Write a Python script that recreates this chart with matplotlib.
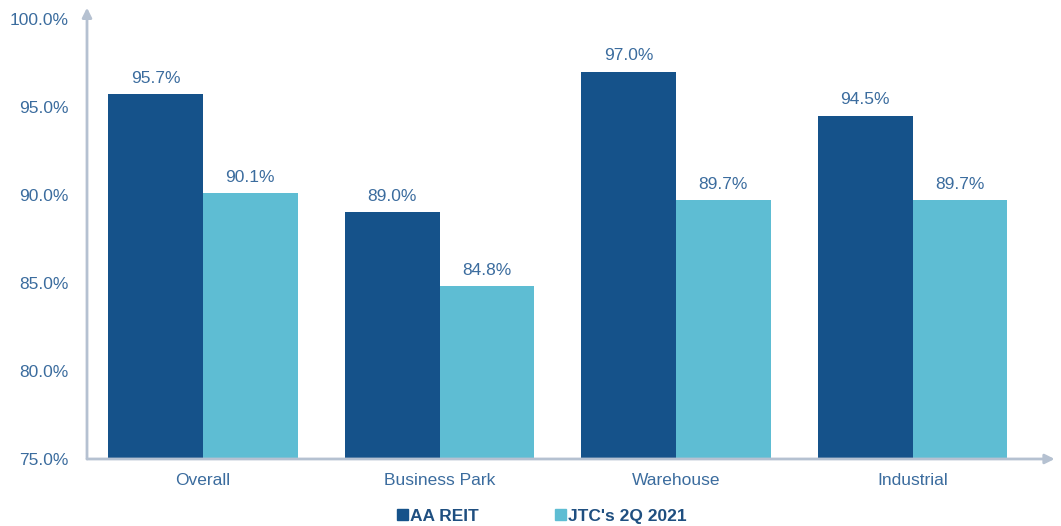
import matplotlib.pyplot as plt
import numpy as np
from matplotlib.patches import Patch

categories = ['Overall', 'Business Park', 'Warehouse', 'Industrial']
aa_reit = [95.7, 89.0, 97.0, 94.5]
jtc_2q2021 = [90.1, 84.8, 89.7, 89.7]
yticks = [75, 80, 85, 90, 95, 100]

dark = '#15528A'
light = '#5EBDD3'
txt = '#3B6C9E'
axis_col = '#B5C1D1'

plt.rcParams['font.family'] = ['Liberation Sans', 'DejaVu Sans']

fig = plt.figure(figsize=(10.61, 5.26), dpi=100)
ax = fig.add_axes([0.082, 0.1274, 0.912, 0.837])

x = np.arange(len(categories))
w = 0.4
b1 = ax.bar(x - w / 2, np.array(aa_reit) - 75, w, bottom=75, color=dark)
b2 = ax.bar(x + w / 2, np.array(jtc_2q2021) - 75, w, bottom=75, color=light)

# value labels over each bar
for bars, vals in ((b1, aa_reit), (b2, jtc_2q2021)):
    for bar, v in zip(bars, vals):
        ax.annotate(f'{v:.1f}%', (bar.get_x() + bar.get_width() / 2, v),
                    xytext=(0, 6), textcoords='offset points',
                    ha='center', va='bottom', fontsize=12.5, color=txt)

ax.set_xlim(-0.49, 3.6)
ax.set_ylim(75, 100)
ax.set_xticks(x)
ax.set_xticklabels(categories, fontsize=12.5, color=txt)
ax.set_yticks(yticks)
ax.set_yticklabels([f'{t:.1f}%' for t in yticks], fontsize=12.5, color=txt)
ax.tick_params(length=0)
ax.tick_params(axis='x', pad=10)
ax.tick_params(axis='y', pad=13)

for s in ax.spines.values():
    s.set_visible(False)

# axes with arrow heads
ax.annotate('', xy=(0, 1.025), xytext=(0, 0), xycoords='axes fraction',
            arrowprops=dict(arrowstyle='-|>', color=axis_col, lw=2, mutation_scale=14,
                            shrinkA=0, shrinkB=0), annotation_clip=False)
ax.annotate('', xy=(1.0, 0), xytext=(0, 0), xycoords='axes fraction',
            arrowprops=dict(arrowstyle='-|>', color=axis_col, lw=2, mutation_scale=14,
                            shrinkA=0, shrinkB=0), annotation_clip=False)

handles = [Patch(color=dark, label='AA REIT'), Patch(color=light, label="JTC's 2Q 2021")]
leg = fig.legend(handles=handles, loc='center', bbox_to_anchor=(0.511, 0.018), ncol=2,
                 frameon=False, handlelength=0.6, handleheight=0.6, handletextpad=0.15,
                 columnspacing=4.4, prop={'weight': 'bold', 'size': 12.5})
for t in leg.get_texts():
    t.set_color('#1F4F80')

fig.savefig('out.png', dpi=100)
